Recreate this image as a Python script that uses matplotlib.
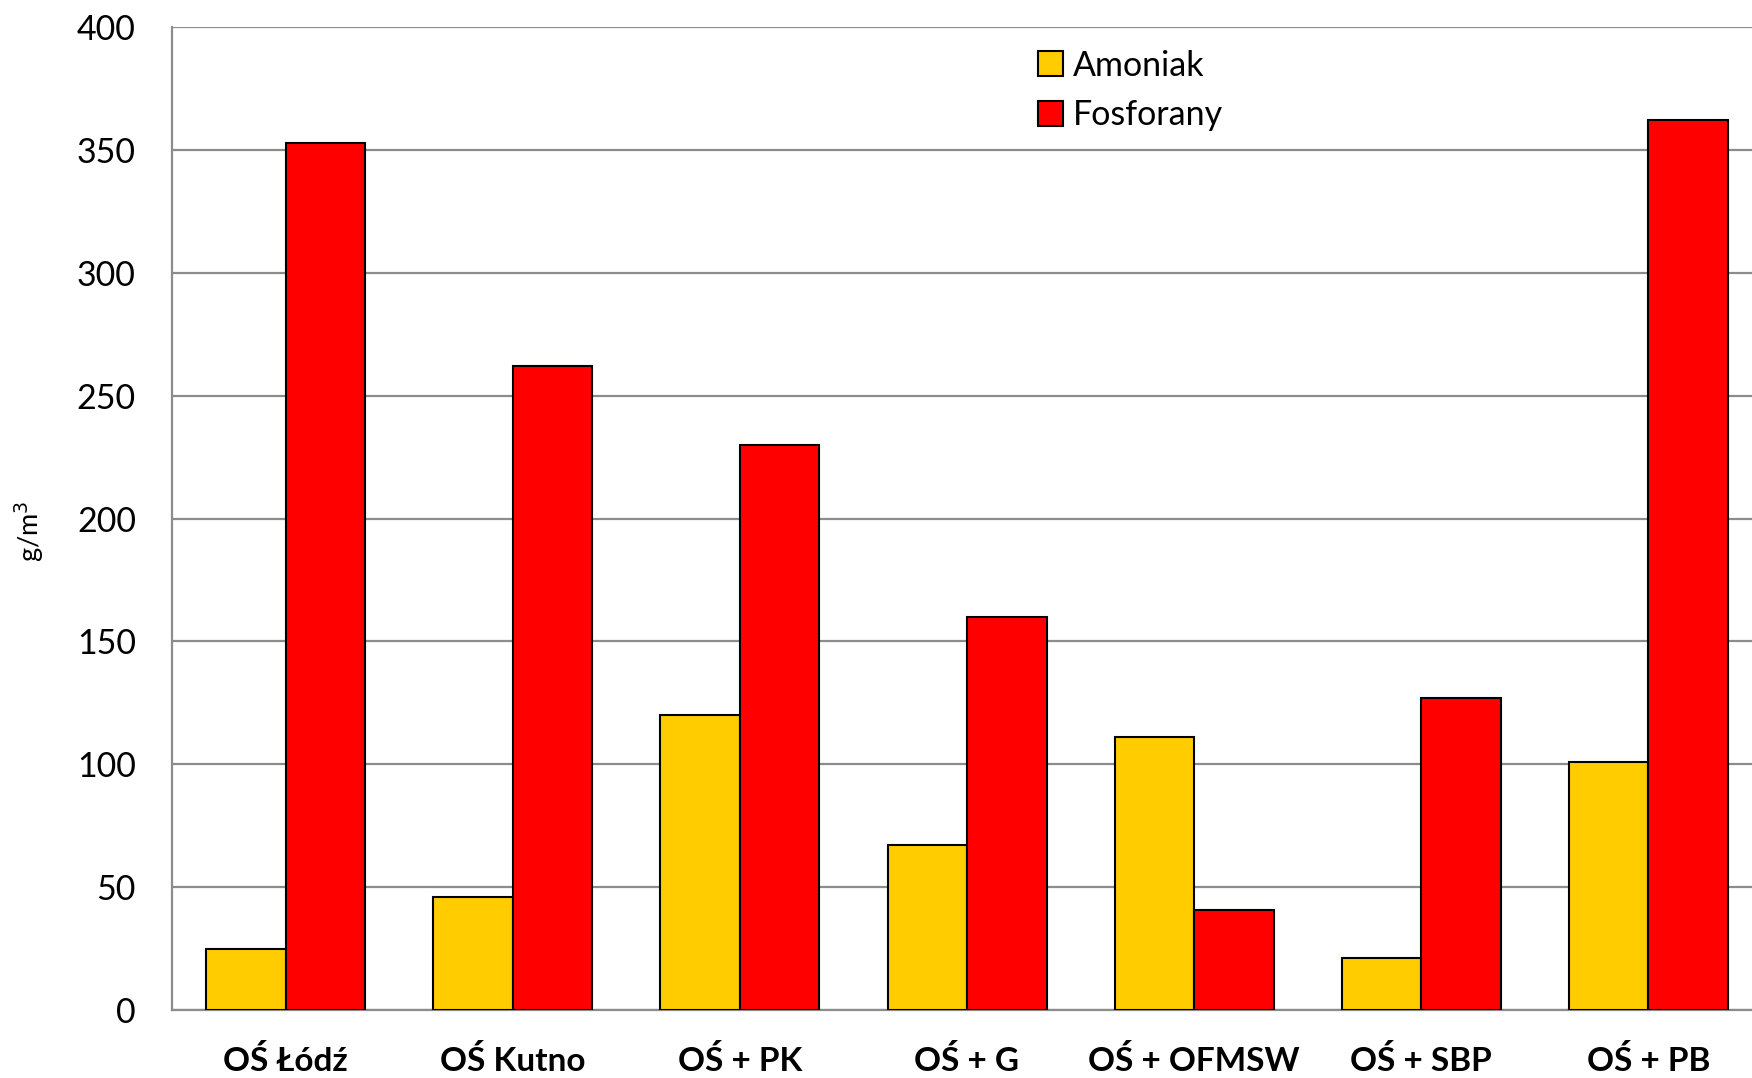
import matplotlib
matplotlib.use("Agg")
import matplotlib.pyplot as plt
import numpy as np
from matplotlib.patches import Patch

plt.rcParams['font.family'] = ['Lato', 'DejaVu Sans']

categories = ["OŚ Łódź", "OŚ Kutno", "OŚ + PK", "OŚ + G", "OŚ + OFMSW", "OŚ + SBP", "OŚ + PB"]
amoniak = [25, 46, 120, 67, 111, 21, 101]
fosforany = [353, 262, 230, 160, 40.5, 127, 362]
series_names = ["Amoniak", "Fosforany"]
y_ticks = [0, 50, 100, 150, 200, 250, 300, 350, 400]

W, H = 1752, 1078
fig = plt.figure(figsize=(W / 100, H / 100), dpi=100)
left, right, top, bottom = 172, 1762, 27, 1010
ax = fig.add_axes([left / W, 1 - bottom / H, (right - left) / W, (bottom - top) / H])

x = np.arange(len(categories))
bw = 0.35
grid_c = "#8c8c8c"
ax.bar(x - bw / 2, amoniak, bw, color="#ffcc00", edgecolor="black", linewidth=1.5, zorder=3, label=series_names[0])
ax.bar(x + bw / 2, fosforany, bw, color="#ff0000", edgecolor="black", linewidth=1.5, zorder=3, label=series_names[1])

ax.set_xlim(-0.5, len(categories) - 0.5)
ax.set_ylim(0, 400)
ax.set_yticks(y_ticks)
ax.yaxis.grid(True, color=grid_c, linewidth=1.6, zorder=0)
ax.set_axisbelow(True)
for s in ["top", "right"]:
    ax.spines[s].set_visible(False)
for s in ["left", "bottom"]:
    ax.spines[s].set_color(grid_c)
    ax.spines[s].set_linewidth(1.6)
ax.tick_params(axis="both", length=0)
ax.tick_params(axis="y", labelsize=24.5, pad=26)
ax.tick_params(axis="x", labelsize=24, pad=25)
ax.set_xticks(x)
ax.set_xticklabels(categories, fontweight="bold")
ax.set_ylabel("g/m$^3$", fontsize=19.5)
ax.yaxis.set_label_coords(-0.0795, 0.487)

handles = [Patch(facecolor="#ffcc00", edgecolor="black", linewidth=1.5),
           Patch(facecolor="#ff0000", edgecolor="black", linewidth=1.5)]
ax.legend(handles, series_names, loc="upper left", bbox_to_anchor=((1024 - left) / (right - left), 1.0 - 9 / (bottom - top)),
          frameon=False, fontsize=24.5, handlelength=0.75, handleheight=0.75, handletextpad=0.3, labelspacing=0.52,
          borderaxespad=0)

fig.savefig("out.png", dpi=100)
